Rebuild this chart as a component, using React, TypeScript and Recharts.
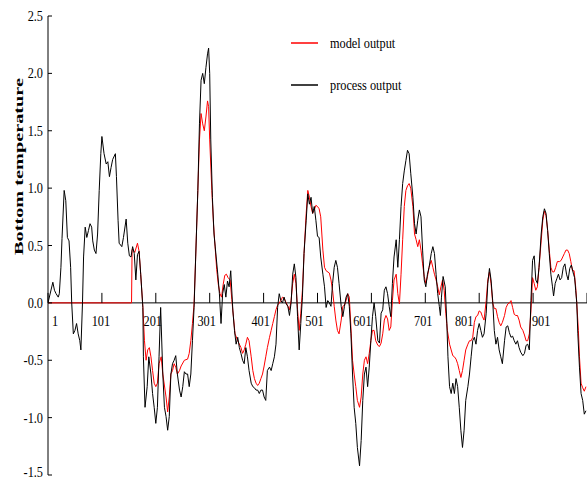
import { LineChart, Line, XAxis, YAxis, ReferenceLine, Legend } from "recharts";

// [sample index, value]
const modelOutput: [number, number][] = [
  [1, 0], [156, 0], [157, 0.46], [158, 0.47], [162, 0.44], [167, 0.52], [170, 0.45], [173, 0.25],
  [177, -0.04], [180, -0.33], [183, -0.5], [186, -0.41], [189, -0.39], [192, -0.47], [195, -0.59],
  [198, -0.7], [201, -0.73], [204, -0.7], [207, -0.53], [211, -0.47], [214, -0.62], [220, -0.82],
  [223, -0.95], [226, -0.82], [229, -0.62], [232, -0.59], [235, -0.53], [238, -0.56], [241, -0.62],
  [245, -0.59], [248, -0.55], [254, -0.5], [260, -0.49], [263, -0.44], [266, -0.33], [269, -0.18],
  [272, -0.01], [275, 0.4], [279, 0.98], [282, 1.42], [285, 1.65], [288, 1.56], [291, 1.5],
  [294, 1.62], [297, 1.76], [299, 1.71], [301, 1.42], [305, 0.98], [308, 0.69], [311, 0.49],
  [314, 0.29], [317, 0.16], [320, 0.08], [323, 0.05], [326, 0.16], [329, 0.24], [332, 0.25],
  [335, 0.22], [339, 0.2], [342, 0.03], [345, -0.12], [348, -0.27], [353, -0.33], [359, -0.39],
  [362, -0.44], [365, -0.41], [368, -0.36], [371, -0.3], [374, -0.33], [378, -0.47], [381, -0.59],
  [384, -0.66], [387, -0.7], [390, -0.72], [393, -0.7], [396, -0.66], [399, -0.62], [402, -0.55],
  [405, -0.47], [408, -0.39], [412, -0.3], [415, -0.24], [418, -0.18], [421, -0.12], [424, -0.06],
  [427, -0.02], [433, 0.02], [436, 0.05], [439, 0.04], [442, 0.01], [446, -0.03], [449, -0.06],
  [452, 0.02], [455, 0.17], [458, 0.25], [461, 0.17], [464, -0.06], [467, -0.24], [470, -0.09],
  [473, 0.11], [476, 0.43], [480, 0.78], [483, 0.98], [486, 0.92], [489, 0.84], [492, 0.78],
  [495, 0.81], [498, 0.85], [501, 0.84], [504, 0.82], [507, 0.75], [511, 0.46], [514, 0.31],
  [517, 0.28], [523, 0.26], [526, 0.2], [529, 0.11], [532, -0.03], [535, -0.15], [538, -0.24],
  [541, -0.27], [545, -0.15], [548, -0.03], [551, -0.02], [554, 0.02], [557, 0.08], [560, 0.05],
  [563, -0.21], [566, -0.5], [569, -0.62], [572, -0.73], [575, -0.85], [579, -0.91], [582, -0.82],
  [585, -0.62], [588, -0.5], [591, -0.47], [594, -0.53], [597, -0.44], [600, -0.33], [603, -0.24],
  [606, -0.24], [609, -0.33], [613, -0.37], [616, -0.38], [619, -0.35], [622, -0.27], [625, -0.15],
  [628, -0.11], [631, -0.14], [634, -0.24], [637, -0.21], [640, 0.02], [643, 0.2], [647, 0.25],
  [650, 0.08], [653, -0.01], [656, 0.25], [659, 0.55], [662, 0.84], [665, 0.98], [668, 1.02],
  [671, 1.04], [674, 1.0], [678, 0.84], [681, 0.6], [684, 0.55], [687, 0.49], [690, 0.55],
  [693, 0.46], [696, 0.34], [699, 0.23], [702, 0.17], [705, 0.23], [708, 0.31], [712, 0.37],
  [715, 0.31], [718, 0.25], [721, 0.2], [724, 0.14], [727, 0.07], [730, 0.14], [733, 0.2],
  [736, 0.11], [739, -0.09], [742, -0.24], [746, -0.36], [749, -0.41], [752, -0.46], [755, -0.47],
  [758, -0.49], [761, -0.53], [764, -0.59], [767, -0.65], [770, -0.59], [773, -0.5], [776, -0.41],
  [780, -0.36], [783, -0.33], [786, -0.33], [789, -0.3], [792, -0.17], [795, -0.12], [798, -0.11],
  [801, -0.07], [804, -0.08], [807, -0.12], [810, -0.15], [814, 0.02], [817, 0.2], [820, 0.27],
  [823, 0.17], [826, 0], [829, -0.05], [832, -0.05], [835, -0.12], [838, -0.17], [841, -0.2],
  [844, -0.17], [848, -0.11], [851, -0.04], [854, -0.01], [857, 0], [860, 0.02], [863, -0.04],
  [866, -0.1], [869, -0.11], [872, -0.11], [875, -0.15], [878, -0.21], [882, -0.24], [885, -0.28],
  [888, -0.33], [891, -0.33], [894, -0.27], [897, -0.07], [900, 0.22], [903, 0.17], [906, 0.11],
  [909, 0.14], [912, 0.31], [916, 0.54], [919, 0.72], [922, 0.8], [925, 0.76], [928, 0.63],
  [931, 0.46], [934, 0.31], [937, 0.27], [940, 0.27], [943, 0.31], [946, 0.36], [950, 0.36],
  [953, 0.37], [956, 0.4], [959, 0.43], [962, 0.46], [965, 0.46], [968, 0.43], [971, 0.36],
  [974, 0.28], [977, 0.28], [980, 0.14], [982, 0], [985, -0.24], [987, -0.47], [990, -0.7],
  [993, -0.74], [996, -0.77], [999, -0.73],
];

const processOutput: [number, number][] = [
  [1, 0], [10, 0.18], [13, 0.11], [16, 0.08], [20, 0.05], [22, 0.08], [25, 0.31], [27, 0.56],
  [31, 0.98], [34, 0.89], [37, 0.57], [40, 0.54], [43, 0.31], [45, 0], [48, -0.27], [51, -0.24],
  [54, -0.18], [57, -0.27], [60, -0.33], [62, -0.41], [65, 0], [67, 0.4], [70, 0.66], [73, 0.57],
  [76, 0.63], [79, 0.69], [82, 0.66], [84, 0.54], [87, 0.46], [90, 0.43], [93, 0.6], [96, 0.98],
  [99, 1.3], [101, 1.45], [105, 1.3], [109, 1.21], [112, 1.23], [115, 1.1], [118, 1.18], [121, 1.25],
  [126, 1.3], [128, 1.1], [131, 0.72], [133, 0.52], [138, 0.49], [141, 0.57], [146, 0.73],
  [149, 0.52], [152, 0.41], [155, 0.4], [158, 0.49], [161, 0.43], [164, 0.2], [167, 0.42],
  [170, 0.45], [173, 0.25], [177, -0.04], [178, -0.47], [181, -0.91], [185, -0.73], [188, -0.47],
  [192, -0.62], [195, -0.79], [198, -0.91], [201, -1.05], [204, -0.91], [207, -0.47], [210, -0.04],
  [214, -0.62], [217, -0.91], [220, -0.99], [223, -1.11], [226, -0.99], [229, -0.62], [232, -0.53],
  [235, -0.5], [238, -0.46], [241, -0.62], [245, -0.76], [248, -0.82], [251, -0.73], [254, -0.6],
  [257, -0.62], [260, -0.62], [263, -0.73], [266, -0.62], [269, -0.33], [272, -0.04], [275, 0.4],
  [279, 0.98], [282, 1.56], [285, 1.94], [288, 2.0], [291, 1.91], [294, 2.05], [297, 2.17],
  [299, 2.22], [301, 2.0], [303, 1.42], [306, 0.92], [309, 0.6], [313, 0.4], [316, 0.25],
  [319, 0.08], [322, -0.18], [325, 0.08], [328, 0.16], [331, 0.05], [334, 0.19], [337, 0.14],
  [340, 0.28], [344, -0.07], [347, -0.24], [350, -0.36], [353, -0.3], [356, -0.39], [359, -0.44],
  [362, -0.5], [365, -0.53], [368, -0.39], [371, -0.47], [374, -0.59], [378, -0.7], [381, -0.73],
  [384, -0.74], [387, -0.76], [390, -0.76], [393, -0.79], [396, -0.76], [399, -0.76], [402, -0.82],
  [405, -0.85], [408, -0.59], [412, -0.56], [415, -0.59], [418, -0.53], [421, -0.47], [424, -0.36],
  [427, -0.04], [430, 0.08], [433, 0.02], [436, 0], [439, 0.05], [442, 0], [446, -0.03],
  [449, -0.11], [452, 0], [455, 0.25], [458, 0.34], [461, 0.22], [464, -0.12], [467, -0.41],
  [470, -0.18], [473, 0.05], [476, 0.43], [480, 0.72], [483, 0.95], [486, 0.86], [489, 0.92],
  [492, 0.78], [495, 0.84], [498, 0.72], [501, 0.58], [504, 0.57], [507, 0.4], [511, 0.25],
  [514, 0.14], [517, -0.04], [520, 0.02], [523, 0], [526, -0.03], [529, 0.17], [532, 0.31],
  [535, 0.37], [538, 0.31], [541, 0.17], [545, -0.03], [548, -0.12], [551, -0.03], [554, 0.05],
  [557, 0.08], [560, -0.03], [563, -0.27], [566, -0.62], [569, -0.91], [572, -1.05], [575, -1.26],
  [579, -1.42], [582, -1.2], [585, -0.85], [588, -0.62], [591, -0.56], [594, -0.73], [597, -0.56],
  [600, -0.33], [603, -0.12], [606, 0], [609, -0.12], [613, -0.33], [616, -0.35], [619, -0.09],
  [622, -0.06], [625, 0.11], [628, 0.14], [631, 0.08], [634, -0.03], [637, -0.12], [640, 0.17],
  [643, 0.4], [647, 0.55], [650, 0.31], [653, 0.55], [656, 0.84], [659, 1.04], [662, 1.15],
  [665, 1.24], [668, 1.33], [671, 1.3], [674, 1.13], [678, 0.92], [681, 0.69], [684, 0.6],
  [687, 0.72], [690, 0.81], [693, 0.75], [696, 0.46], [699, 0.2], [702, 0.14], [705, 0.25],
  [708, 0.31], [712, 0.43], [715, 0.49], [718, 0.43], [721, 0.25], [724, 0.08], [727, -0.03],
  [729, -0.11], [731, 0.05], [734, 0.23], [738, 0.14], [741, -0.18], [743, -0.47], [746, -0.73],
  [749, -0.79], [752, -0.7], [755, -0.79], [758, -0.66], [761, -0.73], [764, -0.91], [767, -1.11],
  [770, -1.26], [773, -1.11], [776, -0.85], [780, -0.73], [783, -0.62], [786, -0.47], [789, -0.33],
  [792, -0.3], [795, -0.36], [798, -0.24], [801, -0.18], [804, -0.24], [807, -0.3], [810, -0.27],
  [814, -0.09], [817, 0.17], [820, 0.3], [823, 0.2], [826, 0.02], [829, -0.24], [832, -0.36],
  [835, -0.3], [838, -0.41], [841, -0.47], [844, -0.53], [848, -0.33], [851, -0.21], [854, -0.2],
  [857, -0.26], [860, -0.3], [863, -0.29], [866, -0.33], [869, -0.36], [872, -0.33], [875, -0.39],
  [878, -0.43], [882, -0.46], [885, -0.44], [888, -0.37], [891, -0.36], [894, -0.41], [897, 0.02],
  [900, 0.37], [903, 0.41], [906, 0.2], [909, 0.17], [912, 0.31], [916, 0.6], [919, 0.75],
  [922, 0.82], [925, 0.78], [928, 0.63], [931, 0.43], [934, 0.25], [937, 0.14], [939, 0.06],
  [942, 0.17], [945, 0.21], [948, 0.25], [951, 0.2], [954, 0.22], [957, 0.31], [960, 0.34],
  [963, 0.25], [966, 0.2], [969, 0.3], [972, 0.33], [976, 0.25], [978, 0.22], [980, 0.11],
  [982, 0], [984, -0.27], [987, -0.56], [990, -0.79], [993, -0.85], [996, -0.97], [999, -0.94],
];

const xTicks = [1, 101, 201, 301, 401, 501, 601, 701, 801, 901, 1001];
const yTicks = [-1.5, -1.0, -0.5, 0, 0.5, 1.0, 1.5, 2.0, 2.5];

const W = 587;
const H = 479;
const MARGIN = { top: 16, right: 0, bottom: 3, left: 0 };
const X_AXIS_H = 1;
const Y_DOMAIN: [number, number] = [-1.5, 2.5];
// pixel row of y = 0, where the original draws its x axis
const PLOT_H = H - MARGIN.top - MARGIN.bottom - X_AXIS_H;
const ZERO_Y = MARGIN.top + (PLOT_H * Y_DOMAIN[1]) / (Y_DOMAIN[1] - Y_DOMAIN[0]);
const FONT = "'Liberation Serif', 'Times New Roman', serif";
// the original nudges some x labels off their ticks
const LABEL_SHIFT: Record<number, number> = {
  1: 7, 101: -1, 201: -3, 301: -3, 401: -3, 501: -3, 601: -9, 701: -2, 801: -15, 901: 8,
};

const toRows = (pts: [number, number][]) => pts.map(([s, v]) => ({ s, v }));

function XTick({ x, payload }: any) {
  const v = payload.value;
  return (
    <g>
      <line x1={x} x2={x} y1={ZERO_Y - 10} y2={ZERO_Y} stroke="#000" />
      {v !== 1001 && (
        <text
          transform={`translate(${x + (LABEL_SHIFT[v] ?? 0)},${ZERO_Y + 23}) scale(0.82,1)`}
          textAnchor="middle"
          fontFamily={FONT}
          fontSize={15}
          fill="#000"
        >
          {v}
        </text>
      )}
    </g>
  );
}

function YTick({ x, y, payload }: any) {
  return (
    <g>
      <line x1={x} x2={x + 4} y1={y} y2={y} stroke="#000" />
      <text
        transform={`translate(${x - 5},${Math.min(y + 5, H - 2)}) scale(0.82,1)`}
        textAnchor="end"
        fontFamily={FONT}
        fontSize={15}
        fill="#000"
      >
        {payload.value.toFixed(1)}
      </text>
    </g>
  );
}

function YTitle() {
  return (
    <text
      transform="translate(23,166.5) rotate(-90)"
      textAnchor="middle"
      fontFamily={FONT}
      fontWeight="bold"
      fontSize={12}
      textLength={177}
      lengthAdjust="spacingAndGlyphs"
      fill="#000"
    >
      Bottom temperature
    </text>
  );
}

function LegendBox({ payload }: any) {
  return (
    <div style={{ fontFamily: FONT, fontSize: 15, color: "#000" }}>
      {(payload || []).map((p: any) => (
        <div key={p.value} style={{ height: 42, display: "flex", alignItems: "center" }}>
          <svg width={27} height={2} style={{ display: "block" }}>
            <line x1={0} x2={27} y1={1} y2={1} stroke={p.color} strokeWidth={1.5} />
          </svg>
          <span
            style={{
              marginLeft: 12,
              display: "inline-block",
              transform: "scaleX(0.82)",
              transformOrigin: "left center",
              whiteSpace: "nowrap",
            }}
          >
            {p.value}
          </span>
        </div>
      ))}
    </div>
  );
}

export default function App() {
  return (
    <div
      style={{
        position: "absolute",
        left: 0,
        top: 0,
        width: W,
        height: H,
        overflow: "hidden",
        background: "#fff",
      }}
    >
      <LineChart width={W} height={H} margin={MARGIN}>
        <XAxis
          dataKey="s"
          type="number"
          domain={[1, 1001]}
          ticks={xTicks}
          interval={0}
          allowDataOverflow
          height={X_AXIS_H}
          tickSize={0}
          tickMargin={0}
          tickLine={false}
          axisLine={false}
          tick={<XTick />}
        />
        <YAxis
          type="number"
          domain={Y_DOMAIN}
          ticks={yTicks}
          interval={0}
          width={48}
          tickSize={0}
          tickMargin={0}
          tickLine={false}
          axisLine={{ stroke: "#000" }}
          tick={<YTick />}
          label={<YTitle />}
        />
        <ReferenceLine y={0} stroke="#000" />
        <Legend
          layout="vertical"
          align="center"
          verticalAlign="middle"
          content={<LegendBox />}
          wrapperStyle={{ position: "absolute", left: 291, top: 22, width: 200, height: 84 }}
        />
        <Line
          data={toRows(modelOutput)}
          dataKey="v"
          name="model output"
          type="linear"
          stroke="#ff0000"
          strokeWidth={1}
          dot={false}
          isAnimationActive={false}
        />
        <Line
          data={toRows(processOutput)}
          dataKey="v"
          name="process output"
          type="linear"
          stroke="#000"
          strokeWidth={1}
          dot={false}
          isAnimationActive={false}
        />
      </LineChart>
    </div>
  );
}
